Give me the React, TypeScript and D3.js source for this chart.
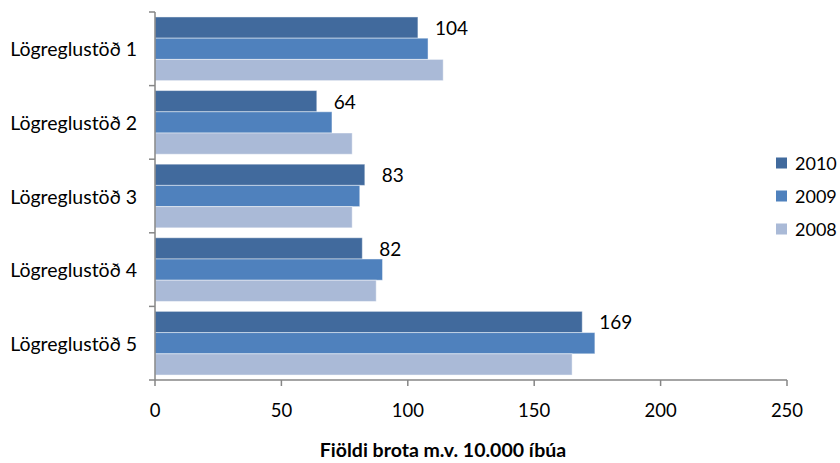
import React from "react";
import * as d3 from "d3";

const categories = ["Lögreglustöð 1", "Lögreglustöð 2", "Lögreglustöð 3", "Lögreglustöð 4", "Lögreglustöð 5"];
const years = ["2010", "2009", "2008"];
const values2010 = [104, 64, 83, 82, 169];
const values2009 = [108, 70, 81, 90, 174];
const values2008 = [114, 78, 78, 87.5, 165];
const xTicks = [0, 50, 100, 150, 200, 250];
const axisTitle = "Fiöldi brota m.v. 10.000 íbúa";

const seriesValues: Record<string, number[]> = { "2010": values2010, "2009": values2009, "2008": values2008 };
const colors: Record<string, string> = { "2010": "#416A9D", "2009": "#4F81BD", "2008": "#AABAD7" };

const FONT = "Lato, 'Open Sans', sans-serif";

export default function App() {
  const W = 840, H = 463;
  const x = d3.scaleLinear().domain([0, 250]).range([155, 787]);
  const y = d3.scaleBand<string>().domain(categories).range([12, 380]).paddingInner(0.135).paddingOuter(0.0675);
  const yi = d3.scaleBand<string>().domain(years).range([0, y.bandwidth()]);
  const axisColor = "#868686";
  const catTicks = categories.map((_, i) => 12 + (i * (380 - 12)) / categories.length).concat([380]);

  return (
    <svg width={W} height={H} style={{ position: "absolute", left: 0, top: 0, background: "#fff" }} fontFamily={FONT}>
      {categories.map((c, ci) => (
        <g key={c}>
          {years.map((yr) => (
            <rect
              key={yr}
              x={x(0)}
              y={(y(c) as number) + (yi(yr) as number)}
              width={x(seriesValues[yr][ci]) - x(0)}
              height={yi.bandwidth()}
              fill={colors[yr]}
              stroke="#ffffff"
              strokeOpacity={0.45}
              strokeWidth={1}
            />
          ))}
          <text
            x={x(values2010[ci]) + 17}
            y={(y(c) as number) + (yi("2010") as number) + yi.bandwidth() / 2}
            dominantBaseline="central"
            fontSize={19}
            fill="#000"
          >
            {values2010[ci]}
          </text>
          <text
            x={137}
            y={(y(c) as number) + y.bandwidth() / 2}
            dominantBaseline="central"
            textAnchor="end"
            fontSize={19.5}
            fill="#000"
          >
            {c}
          </text>
        </g>
      ))}
      {/* y axis */}
      <line x1={155} x2={155} y1={12} y2={380} stroke={axisColor} strokeWidth={1.5} />
      {catTicks.map((t, i) => (
        <line key={i} x1={149} x2={155} y1={t} y2={t} stroke={axisColor} strokeWidth={1.5} />
      ))}
      {/* x axis */}
      <line x1={155} x2={787} y1={380} y2={380} stroke={axisColor} strokeWidth={1.5} />
      {xTicks.map((t) => (
        <g key={t}>
          <line x1={x(t)} x2={x(t)} y1={380} y2={386} stroke={axisColor} strokeWidth={1.5} />
          <text x={x(t)} y={410} textAnchor="middle" dominantBaseline="central" fontSize={18.5} fill="#000">
            {t}
          </text>
        </g>
      ))}
      <text x={443} y={449} textAnchor="middle" dominantBaseline="central" fontSize={19.5} fontWeight="bold" fill="#000">
        {axisTitle}
      </text>
      {/* legend */}
      {years.map((yr, i) => (
        <g key={yr} transform={`translate(776, ${163 + i * 33})`}>
          <rect x={0} y={-5.5} width={11} height={11} fill={colors[yr]} />
          <text x={19} y={0} dominantBaseline="central" fontSize={18} fill="#000">
            {yr}
          </text>
        </g>
      ))}
    </svg>
  );
}
